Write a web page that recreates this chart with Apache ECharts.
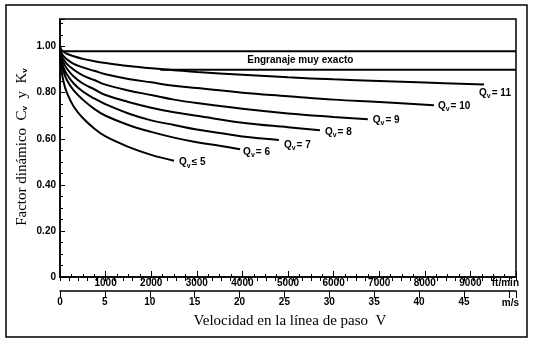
<!DOCTYPE html>
<html><head><meta charset="utf-8">
<script src="https://cdn.jsdelivr.net/npm/echarts@6/dist/echarts.min.js"></script>
<style>html,body{margin:0;padding:0;background:#fff}#c{width:536px;height:344px}</style>
</head><body><div id="c"></div>
<script>
// ---- data ----
// pitch-line velocity in ft/min, dynamic factor Kv
const v11 = [0,25,75,150,300,500,750,1000,1500,2000,2500,3000,4000,5000,6000,7000,8000,9300];
const k11 = [1.00,0.987,0.978,0.969,0.958,0.947,0.937,0.929,0.916,0.906,0.898,0.890,0.878,0.867,0.858,0.851,0.844,0.836];
const v10 = [0,25,75,150,300,500,750,1000,1500,2000,2500,3000,4000,5000,6000,7000,8200];
const k10 = [1.00,0.975,0.960,0.945,0.925,0.910,0.895,0.880,0.860,0.845,0.830,0.820,0.800,0.785,0.770,0.760,0.746];
const v9 = [0,25,75,150,300,500,750,1000,1500,2000,2500,3000,4000,5000,6000,6750];
const k9 = [1.00,0.965,0.945,0.925,0.900,0.875,0.855,0.835,0.810,0.790,0.770,0.755,0.730,0.710,0.695,0.685];
const v8 = [0,25,75,150,300,500,750,1000,1500,2000,2500,3000,4000,5000,5700];
const k8 = [1.00,0.955,0.930,0.905,0.870,0.840,0.815,0.790,0.760,0.735,0.715,0.700,0.670,0.650,0.637];
const v7 = [0,25,75,150,300,500,750,1000,1500,2000,2500,3000,3500,4000,4500,4800];
const k7 = [1.00,0.945,0.910,0.880,0.840,0.805,0.775,0.750,0.710,0.680,0.660,0.640,0.625,0.610,0.600,0.595];
const v6 = [0,25,75,150,300,500,750,1000,1500,2000,2500,3000,3500,3950];
const k6 = [1.00,0.935,0.895,0.855,0.810,0.770,0.730,0.700,0.660,0.630,0.605,0.585,0.570,0.555];
const v5 = [0,25,75,150,300,500,750,1000,1500,2000,2500];
const k5 = [1.00,0.910,0.850,0.800,0.740,0.690,0.645,0.610,0.565,0.530,0.505];
const curveTags = ['= 11','= 10','= 9','= 8','= 7','= 6','\u2264 5'];
// "engranaje muy exacto" band
const bandTopX = [0,10000];    const bandTopY = [0.98,0.98];
const bandLowX = [2200,10000]; const bandLowY = [0.90,0.90];
const bandText = 'Engranaje muy exacto';
const bandTextPos = [5270, 0.941];
// axes
const ftMax = 10000, ftStep = 1000;
const msMax = 50.8, msStep = 5;
const yMax = 1.12, yStep = 0.2;

const BOLD = 'Liberation Sans';
const SERIF = 'Liberation Serif';
const chart = echarts.init(document.getElementById('c'), null, {renderer:'canvas'});

const labRich = {
  q:{fontFamily:BOLD,fontSize:10,fontWeight:'bold',color:'#000'},
  s:{fontFamily:BOLD,fontSize:7,fontWeight:'bold',color:'#000',padding:[6,1,0,0]},
  t:{fontFamily:BOLD,fontSize:10,fontWeight:'bold',color:'#000'}
};
function curve(xs, ys, tag, off){
  return {type:'line', data: xs.map((x,i)=>[x,ys[i]]), symbol:'none', showSymbol:false,
    smooth:0.4, lineStyle:{color:'#000',width:2}, silent:true,
    endLabel:{show:true, distance:5, offset:off, formatter:'{q|Q}{s|v}{t|'+tag+'}', rich:labRich}};
}
function flat(xs, ys){
  return {type:'line', data: xs.map((x,i)=>[x,ys[i]]), symbol:'none', showSymbol:false,
    lineStyle:{color:'#000',width:2}, silent:true};
}
const lab = {color:'#000',fontSize:10,fontWeight:'bold',fontFamily:BOLD};
const blk = {color:'#000',width:1};

chart.setOption({
  animation:false,
  backgroundColor:'#fff',
  grid:{left:60, right:20, top:19, bottom:67, show:true, borderColor:'#000', borderWidth:1.5, backgroundColor:'transparent'},
  xAxis:[
    {type:'value', min:0, max:ftMax, interval:ftStep, position:'bottom',
     axisLine:{show:true,onZero:false,lineStyle:{color:'#000',width:1.5}},
     axisTick:{show:true,inside:true,length:6,lineStyle:blk},
     minorTick:{show:true,splitNumber:4,length:3,lineStyle:blk},
     axisLabel:Object.assign({margin:1,formatter:v=>(v>0&&v<ftMax)?String(v):''},lab),
     splitLine:{show:false}},
    {type:'value', min:0, max:msMax, interval:msStep, position:'bottom', offset:14,
     axisLine:{show:true,onZero:false,lineStyle:{color:'#000',width:1.5}},
     axisTick:{show:true,inside:false,length:7,lineStyle:blk},
     axisLabel:Object.assign({margin:6,formatter:v=>(v<=45&&Math.abs(v%5)<1e-9)?String(v):''},lab),
     splitLine:{show:false}},
    {type:'value', min:0, max:msMax, interval:1, position:'bottom', offset:14,
     axisLine:{show:false},
     axisTick:{show:true,inside:false,length:4,lineStyle:blk},
     axisLabel:{show:false}, splitLine:{show:false}}
  ],
  yAxis:{type:'value', min:0, max:yMax, interval:yStep,
     axisLine:{show:true,onZero:false,lineStyle:{color:'#000',width:1.5}},
     axisTick:{show:true,inside:true,length:5,lineStyle:blk},
     minorTick:{show:true,splitNumber:4,length:3,lineStyle:blk},
     axisLabel:Object.assign({margin:4,formatter:v=>v===0?'0':(v>1.01?'':v.toFixed(2))},lab),
     splitLine:{show:false}},
  series:[
    flat(bandTopX,bandTopY), flat(bandLowX,bandLowY),
    curve(v11,k11,curveTags[0],[-10,9]),
    curve(v10,k10,curveTags[1],[-1,1]),
    curve(v9,k9,curveTags[2],[0,1]),
    curve(v8,k8,curveTags[3],[0,2]),
    curve(v7,k7,curveTags[4],[0,5]),
    curve(v6,k6,curveTags[5],[-2,3]),
    curve(v5,k5,curveTags[6],[0,2])
  ]
});

const bp = chart.convertToPixel({xAxisIndex:0,yAxisIndex:0}, bandTextPos);
chart.setOption({
  graphic:[
    {type:'rect', shape:{x:6,y:5,width:521,height:332}, style:{fill:'none',stroke:'#000',lineWidth:1.5}, silent:true},
    {type:'text', x:bp[0], y:bp[1], silent:true, style:{text:bandText, align:'center', verticalAlign:'middle', fontFamily:BOLD, fontSize:10, fontWeight:'bold', fill:'#000'}},
    {type:'text', x:22, y:147, rotation:Math.PI/2, silent:true,
     style:{text:'{a|Factor din\u00e1mico  C}{s|v}{a|  y  K}{s|v}', align:'center', verticalAlign:'middle',
       rich:{a:{fontFamily:SERIF,fontSize:15,fill:'#000',color:'#000'}, s:{fontFamily:BOLD,fontSize:8,fontWeight:'bold',color:'#000',padding:[5,0,0,0]}}}},
    {type:'text', x:290, y:321, silent:true, style:{text:'Velocidad en la l\u00ednea de paso  V', align:'center', verticalAlign:'middle', fontFamily:SERIF, fontSize:15, fill:'#000'}},
    {type:'text', x:519, y:283, silent:true, style:{text:'ft/min', align:'right', verticalAlign:'middle', fontFamily:BOLD, fontSize:10, fontWeight:'bold', fill:'#000'}},
    {type:'text', x:519, y:303, silent:true, style:{text:'m/s', align:'right', verticalAlign:'middle', fontFamily:BOLD, fontSize:10, fontWeight:'bold', fill:'#000'}}
  ]
});
</script></body></html>
